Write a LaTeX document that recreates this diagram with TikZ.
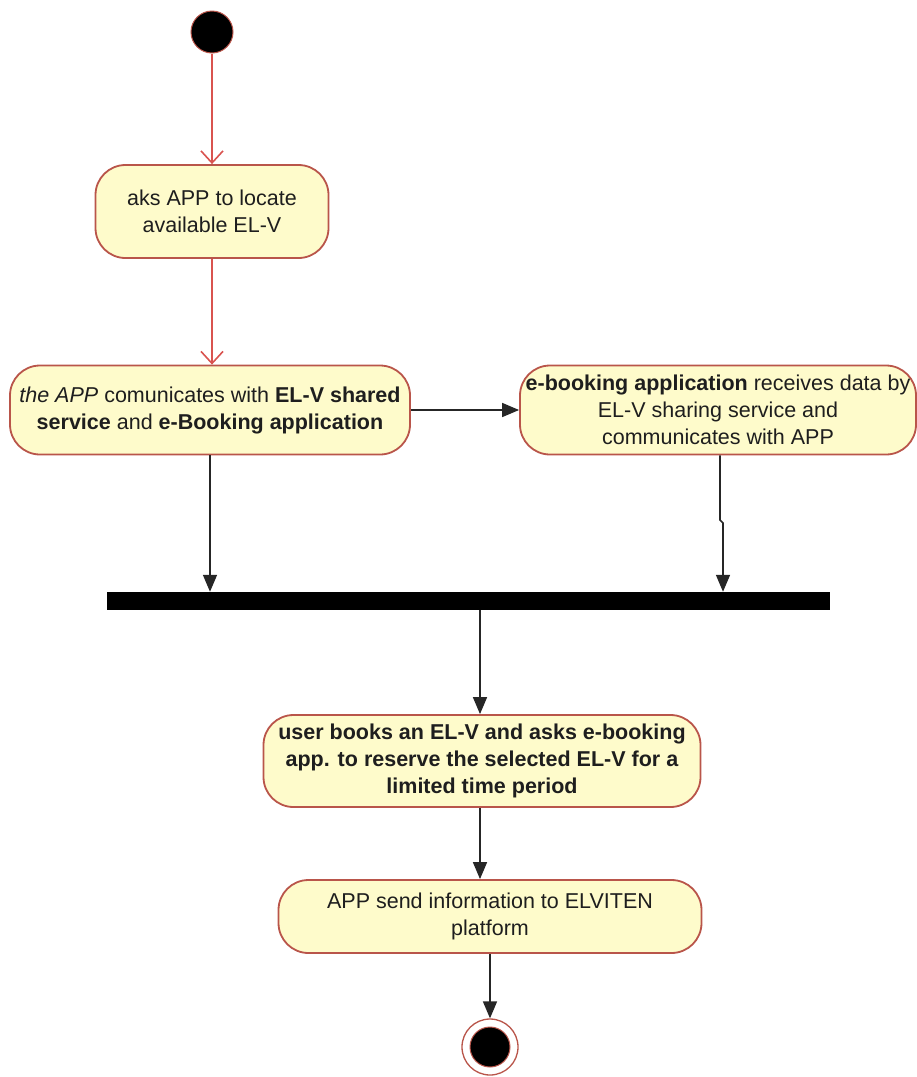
\documentclass[tikz,border=0pt]{standalone}
\usepackage{fontspec}
\setmainfont{Liberation Sans}
\usetikzlibrary{arrows.meta}
\definecolor{actfill}{HTML}{FEFBCB}
\definecolor{actline}{HTML}{B9554A}
\definecolor{flowred}{HTML}{D9534F}
\definecolor{txt}{HTML}{1E1E1E}
\begin{document}
\begin{tikzpicture}[x=1pt,y=-1pt,
  action/.style={draw=actline, fill=actfill, line width=1.8pt, rounded corners=30pt,
    align=center, text=txt, inner sep=0pt, font=\fontsize{21.5}{27}\selectfont},
  redflow/.style={draw=flowred, line width=1.6pt, -{Straight Barb[length=12pt,width=22pt]}},
  flow/.style={draw=black!85, line width=1.6pt, -{Triangle[length=17pt,width=14pt]}},
  startnode/.style={circle, fill=black, draw=actline, line width=1pt, minimum size=42pt, inner sep=0pt},
]
\useasboundingbox (0,0) rectangle (917,1077);

% initial state
\node[startnode] (start) at (212,32) {};

% actions
\node[action, minimum width=233pt, minimum height=93pt] (b1) at (212,211.5)
  {aks APP to locate\\available EL-V};
\node[action, minimum width=400pt, minimum height=89pt] (b2) at (210,410)
  {\textit{the APP} comunicates with \textbf{EL-V shared}\\\textbf{service} and \textbf{e-Booking application}};
\node[action, minimum width=396pt, minimum height=89pt] (b3) at (718,410)
  {\textbf{e-booking application} receives data by\\EL-V sharing service and\\communicates with APP};

% synchronisation bar
\node[fill=black, minimum width=723pt, minimum height=18pt, inner sep=0pt] (bar) at (468.5,601) {};

\node[action, minimum width=437pt, minimum height=92pt] (b4) at (482,761)
  {\textbf{user books an EL-V and asks e-booking}\\\textbf{app. to reserve the selected EL-V for a}\\\textbf{limited time period}};
\node[action, minimum width=423pt, minimum height=73pt] (b5) at (490,916.5)
  {APP send information to ELVITEN\\platform};

% final state
\node[circle, draw=actline, line width=1.3pt, fill=white, minimum size=56pt, inner sep=0pt] (end) at (490,1047) {};
\node[circle, fill=black, draw=actline, line width=1pt, minimum size=40pt, inner sep=0pt] (endcore) at (end.center) {};

% control flows
\draw[redflow] (start) -- (start |- b1.north);
\draw[redflow] (b1.south) -- (b1.south |- b2.north);
\draw[flow] (b2.east) -- (b2.east -| b3.west);
\draw[flow] (b2.south) -- (b2.south |- bar.north);
\coordinate (j1) at (720,520);
\coordinate (j2) at (723,523);
\draw[flow] (b3.south -| j1) -- (j1) -- (j2) -- (j2 |- bar.north);
\draw[flow] (b4.north |- bar.south) ++(-2,0) coordinate (barout) (barout) -- (barout |- b4.north);
\draw[flow] (b4.south) ++(-2,0) coordinate (b4out) (b4out) -- (b4out |- b5.north);
\draw[flow] (b5.south) -- (b5.south |- end.north);
\end{tikzpicture}
\end{document}
